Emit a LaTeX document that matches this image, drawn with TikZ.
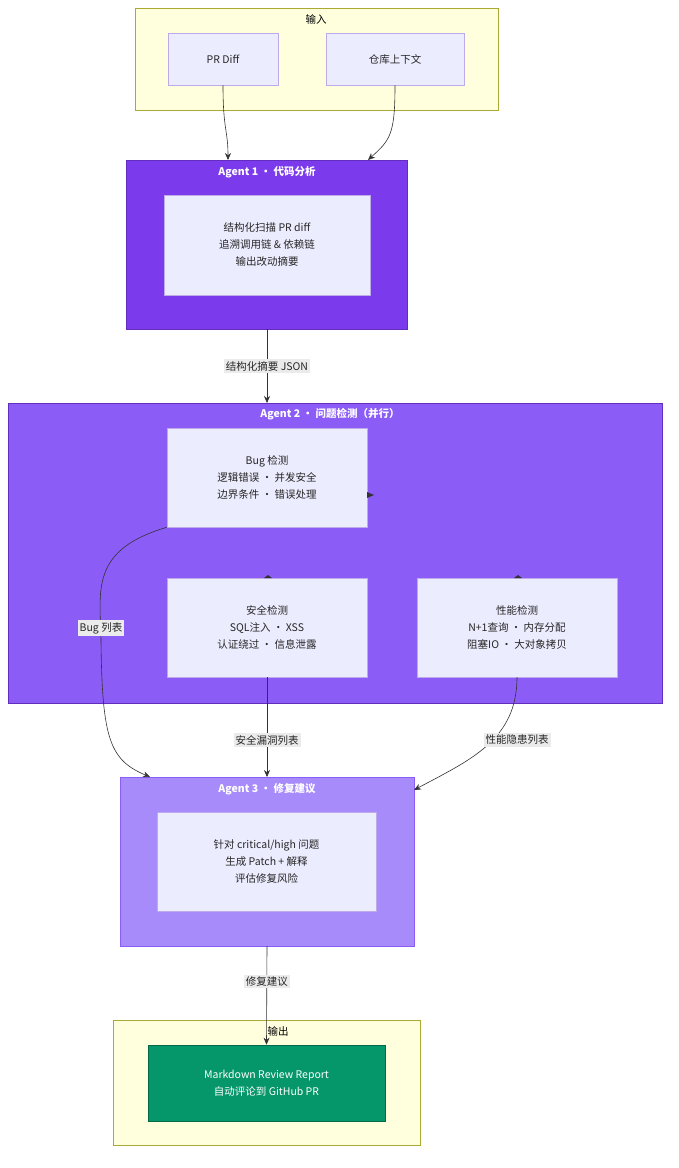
\documentclass[tikz,border=0pt]{standalone}
\usepackage{fontspec}
\setmainfont{Noto Sans CJK SC}
\usetikzlibrary{arrows.meta}
\definecolor{inbg}{HTML}{FFFFDE}
\definecolor{inln}{HTML}{AAAA33}
\definecolor{agone}{HTML}{7C3AED}
\definecolor{agtwo}{HTML}{8B5CF6}
\definecolor{agthree}{HTML}{A78BFA}
\definecolor{nodebg}{HTML}{ECECFF}
\definecolor{nodeln}{HTML}{9370DB}
\definecolor{outgreen}{HTML}{059669}
\definecolor{edge}{HTML}{333333}
\tikzset{
  cluster/.style={draw=inln, fill=inbg, line width=0.6pt},
  agentbox/.style={draw=agone!80!black, line width=0.6pt},
  item/.style={draw=nodeln!60, fill=nodebg, line width=0.6pt, align=center, font=\fontsize{10.5}{17}\selectfont, text=black!85},
  title/.style={font=\fontsize{10.5}{13}\selectfont},
  flow/.style={-{Stealth[length=7pt,width=6pt]}, draw=edge, line width=0.6pt},
  tag/.style={fill=black!8, font=\fontsize{10.5}{13}\selectfont, inner sep=2pt, text=black!85}
}
\begin{document}
\begin{tikzpicture}[x=1pt,y=-1pt]
  \useasboundingbox[fill=white] (0,0) rectangle (678,1168);
  % clusters
  \draw[cluster] (135,8) rectangle (498,110);
  \node[title] at (316,19) {输入};
  \draw[agentbox, fill=agone] (126,160) rectangle (407,329);
  \node[title, text=white, font=\bfseries\fontsize{10.5}{13}\selectfont] at (267,172) {Agent 1 · 代码分析};
  \draw[agentbox, fill=agtwo] (8,403) rectangle (662,703);
  \node[title, text=white, font=\bfseries\fontsize{10.5}{13}\selectfont] at (330,414) {Agent 2 · 问题检测（并行）};
  \draw[agentbox, draw=agtwo, fill=agthree] (120,777) rectangle (414,946);
  \node[title, text=white, font=\bfseries\fontsize{10.5}{13}\selectfont] at (267,789) {Agent 3 · 修复建议};
  \draw[cluster] (113,1020) rectangle (420,1145);
  \node[title] at (278,1031) {输出};
  % nodes
  \node[item, minimum width=110pt, minimum height=52pt] (diff) at (223,59) {PR Diff};
  \node[item, minimum width=138pt, minimum height=52pt] (repo) at (395,59) {仓库上下文};
  \node[item, minimum width=206pt, minimum height=100pt] (scan) at (267,245) {结构化扫描 PR diff\\追溯调用链 \& 依赖链\\输出改动摘要};
  \node[item, minimum width=200pt, minimum height=99pt] (bug) at (267,477.5) {Bug 检测\\逻辑错误 · 并发安全\\边界条件 · 错误处理};
  \node[item, minimum width=200pt, minimum height=99pt] (sec) at (267,627.5) {安全检测\\SQL注入 · XSS\\认证绕过 · 信息泄露};
  \node[item, minimum width=200pt, minimum height=99pt] (perf) at (517,627.5) {性能检测\\N+1查询 · 内存分配\\阻塞IO · 大对象拷贝};
  \node[item, minimum width=219pt, minimum height=99pt] (fix) at (266.5,861.5) {针对 critical/high 问题\\生成 Patch + 解释\\评估修复风险};
  \node[item, draw=outgreen!70!black, fill=outgreen, text=white, minimum width=237pt, minimum height=76pt] (report) at (266.5,1083) {Markdown Review Report\\自动评论到 GitHub PR};
  \coordinate (a1top) at (267,160);
  \coordinate (a1bot) at (267,329);
  \coordinate (a2top) at (267,403);
  \coordinate (a3bot) at (267,946);
  % connectors
  \draw[flow] (diff.south) .. controls (223,130) and (228,130) .. (228,160);
  \draw[flow] (repo.south) .. controls (395,135) and (390,140) .. (368,160);
  \draw[flow] (a1bot) -- node[tag] {结构化摘要 JSON} (a2top);
  \draw[flow] (bug.south west) .. controls (90,550) and (100,590) .. (101,640) .. controls (102,740) and (110,760) .. (150,777);
  \node[tag] at (101,628) {Bug 列表};
  \draw[flow] (sec.south) -- node[tag, pos=0.63] {安全漏洞列表} (267,777);
  \draw[flow] (perf.south) .. controls (517,740) and (470,760) .. (414,790);
  \node[tag] at (517,740) {性能隐患列表};
  \draw[flow] (a3bot) -- node[tag, pos=0.36] {修复建议} (report.north);
  % stubs
  \fill[edge] (367,492) -- (374,495) -- (367,498) -- cycle;
  \fill[edge] (264,578) -- (268,575) -- (272,578) -- cycle;
  \fill[edge] (514,578) -- (518,575) -- (522,578) -- cycle;
\end{tikzpicture}
\end{document}
